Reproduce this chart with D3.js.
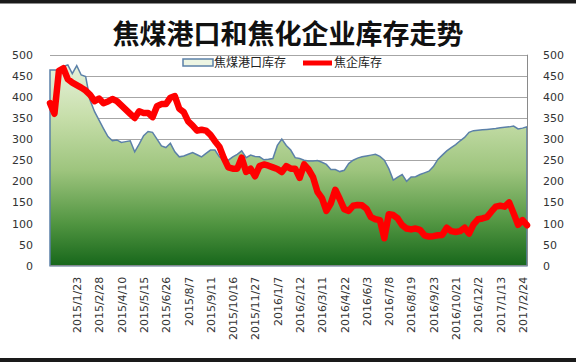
<!DOCTYPE html>
<html>
  <head>
    <meta http-equiv="Content-Type" content="text/html;charset=utf-8">
    <title>焦煤港口和焦化企业库存走势</title>
    <script type="text/javascript" src="https://d3js.org/d3.v7.min.js"></script>
    <style>
      html, body {
        margin: 0;
        padding: 0;
        background: #fff;
      }
      text {
        font-family: "Noto Sans CJK SC", "DejaVu Sans", sans-serif;
      }
      .axis text {
        font-family: "DejaVu Sans", sans-serif;
        font-size: 11px;
        fill: #333;
      }
      .axis path, .axis line {
        stroke: none;
      }
      .grid line {
        stroke: #a6a6a6;
        stroke-width: 1px;
        shape-rendering: crispEdges;
      }
      path.port {
        stroke: #5b80a8;
        stroke-width: 1.5px;
      }
      path.coke {
        fill: none;
        stroke: #ff0000;
        stroke-width: 6.5px;
        stroke-linejoin: round;
        stroke-linecap: round;
      }
    </style>
  </head>
  <body>
    <script type="text/javascript">

// x axis labels (every 5th category)
var xLabels = ["2015/1/23","2015/2/28","2015/4/10","2015/5/15","2015/6/26","2015/8/7",
  "2015/9/11","2015/10/16","2015/11/27","2016/1/7","2016/2/12","2016/3/11","2016/4/22",
  "2016/6/3","2016/7/8","2016/8/19","2016/9/23","2016/10/21","2016/12/2","2017/1/13","2017/2/24"];
var firstLabel = 6;
var labelStep = 5;

// 焦煤港口库存 (area)
var portStock = [464,464,464,472,476,455,474,452,448,392,
  365,345,325,306,296,298,292,294,296,270,
  288,308,318,316,300,284,280,290,270,258,
  260,264,268,263,258,266,274,274,258,250,
  250,258,264,272,256,262,259,258,251,252,
  254,285,300,285,274,256,254,250,248,248,
  249,245,240,228,228,223,226,242,250,255,
  258,260,262,264,259,250,230,203,210,216,
  200,210,211,216,220,224,235,252,262,272,
  280,287,296,304,316,320,321,322,323,324,
  325,327,328,329,331,324,326,329];

// 焦企库存 (line)
var cokeStock = [385,360,462,468,442,434,428,422,415,405,
  390,396,385,389,395,390,380,370,360,350,
  366,362,362,352,378,383,383,398,402,372,
  364,342,332,320,322,320,310,295,282,255,
  233,230,230,256,222,230,212,236,240,237,
  233,229,222,236,230,230,208,240,228,210,
  175,160,130,148,180,158,134,130,142,144,
  143,135,115,110,108,65,122,120,112,96,
  88,86,88,85,72,69,70,72,73,90,
  82,80,82,90,76,98,110,112,115,128,
  140,142,140,150,124,97,108,96];

var yTicks = [0,50,100,150,200,250,300,350,400,450,500];

var W = 576, H = 364;
var plot = {left: 50, right: 527, top: 54.7, bottom: 265.7};

var svg = d3.select("body").append("svg")
  .attr("width", W).attr("height", H);

// frame bars from the screenshot
svg.append("rect").attr("x", 0).attr("y", 0).attr("width", W).attr("height", 3.5).attr("fill", "#1a1a1a");
svg.append("rect").attr("x", 0).attr("y", 358).attr("width", W).attr("height", 4).attr("fill", "#1a1a1a");

var x = d3.scaleLinear().domain([0, portStock.length - 1]).range([plot.left, plot.right]);
var y = d3.scaleLinear().domain([0, 500]).range([plot.bottom, plot.top]);

var defs = svg.append("defs");
var grad = defs.append("linearGradient").attr("id", "greenFill")
  .attr("gradientUnits", "userSpaceOnUse")
  .attr("x1", 0).attr("x2", 0).attr("y1", y(500)).attr("y2", y(0));
[[0, "#edf5e3"], [0.3, "#c6dea9"], [0.55, "#9dc47d"], [0.8, "#519541"], [1, "#17671b"]].forEach(function(s) {
  grad.append("stop").attr("offset", s[0]).attr("stop-color", s[1]);
});

// gridlines
svg.append("g").attr("class", "grid")
  .selectAll("line").data(yTicks.filter(function(d) { return d > 0; })).enter().append("line")
  .attr("x1", plot.left).attr("x2", plot.right)
  .attr("y1", function(d) { return Math.round(y(d)) + 0.5; })
  .attr("y2", function(d) { return Math.round(y(d)) + 0.5; });

var area = d3.area()
  .x(function(d, i) { return x(i); })
  .y0(y(0))
  .y1(function(d) { return y(d); });

svg.append("path").attr("class", "port")
  .attr("fill", "url(#greenFill)")
  .attr("d", area(portStock));

// plot frame
svg.append("line").attr("x1", plot.left).attr("x2", plot.right).attr("y1", plot.bottom).attr("y2", plot.bottom)
  .attr("stroke", "#8a8a8a").attr("stroke-width", 1);
svg.append("line").attr("x1", plot.right + 0.5).attr("x2", plot.right + 0.5).attr("y1", plot.top).attr("y2", plot.bottom)
  .attr("stroke", "#8a8a8a").attr("stroke-width", 1);

var line = d3.line()
  .x(function(d, i) { return x(i); })
  .y(function(d) { return y(d); });

svg.append("path").attr("class", "coke").attr("d", line(cokeStock));

// axes
var yLeft = d3.axisLeft(y).tickValues(yTicks).tickSize(0).tickPadding(17);
svg.append("g").attr("class", "axis").attr("transform", "translate(" + plot.left + ",0)").call(yLeft);

var yRight = d3.axisRight(y).tickValues(yTicks).tickSize(0).tickPadding(16);
svg.append("g").attr("class", "axis").attr("transform", "translate(" + plot.right + ",0)").call(yRight);

var labelIdx = xLabels.map(function(d, i) { return firstLabel + labelStep * i; });
var xAxis = d3.axisBottom(x).tickValues(labelIdx).tickSize(0)
  .tickFormat(function(d) { return xLabels[(d - firstLabel) / labelStep]; });
svg.append("g").attr("class", "axis")
  .attr("transform", "translate(0," + plot.bottom + ")")
  .call(xAxis)
  .selectAll("text")
  .attr("transform", "rotate(-90)")
  .attr("x", -11).attr("y", 0).attr("dy", "0.35em")
  .style("text-anchor", "end");

// title
svg.append("text").attr("x", 288).attr("y", 44)
  .attr("text-anchor", "middle")
  .style("font-size", "27px").style("font-weight", "bold").style("fill", "#111")
  .text("焦煤港口和焦化企业库存走势");

// legend
var lg = svg.append("g").attr("transform", "translate(0,63)");
lg.append("rect").attr("x", 183).attr("y", -4).attr("width", 30).attr("height", 7)
  .attr("fill", "url(#greenFill)").attr("stroke", "#5b80a8").attr("stroke-width", 1.5);
lg.append("text").attr("x", 214).attr("y", 0).attr("dy", "0.35em")
  .style("font-size", "12px").style("fill", "#222").text("焦煤港口库存");
lg.append("line").attr("x1", 303).attr("x2", 332).attr("y1", 0).attr("y2", 0)
  .attr("stroke", "#ff0000").attr("stroke-width", 5);
lg.append("text").attr("x", 334).attr("y", 0).attr("dy", "0.35em")
  .style("font-size", "12px").style("fill", "#222").text("焦企库存");

    </script>
  </body>
</html>
